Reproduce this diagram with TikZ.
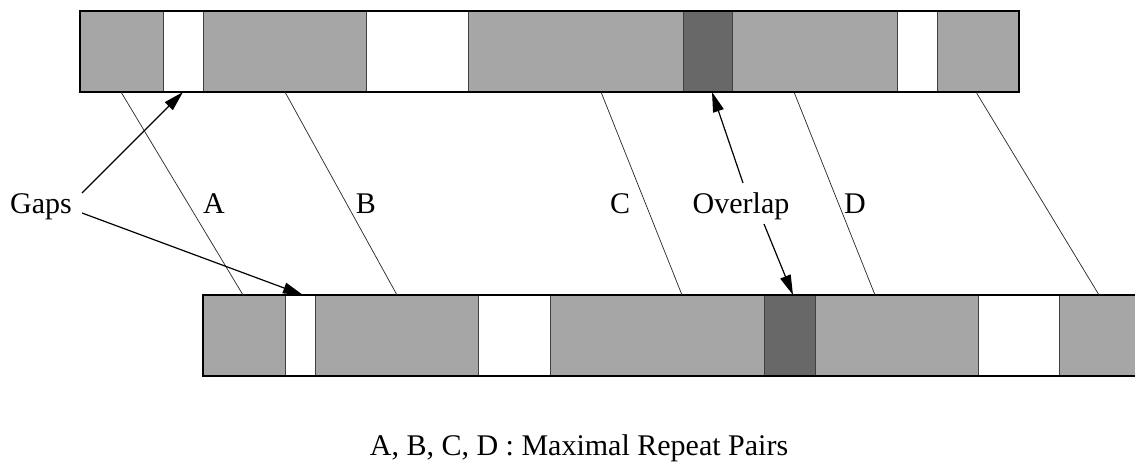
\documentclass[tikz,border=0pt]{standalone}
\usepackage{fontspec}
\setmainfont{Liberation Serif}
\usetikzlibrary{arrows.meta}
\definecolor{lightseg}{HTML}{A6A6A6}
\definecolor{darkseg}{HTML}{686868}
\begin{document}
\begin{tikzpicture}[x=1pt,y=-1pt,
  lbl/.style={font=\fontsize{30}{36}\selectfont, inner sep=0pt, anchor=base},
  pairline/.style={line width=0.7pt, draw=black!85},
  pointer/.style={line width=1.2pt, -{Triangle[length=20pt,width=11pt]}},
  sepline/.style={line width=1pt, draw=black!75},
  barframe/.style={line width=2pt, draw=black},
]
\useasboundingbox (0,0) rectangle (1135,463);
\fill[white] (0,0) rectangle (1135,463);
\begin{scope}
\clip (0,0) rectangle (1135,463);
% top sequence
\fill[lightseg] (80,11) rectangle (1019,92);
\fill[white] (163,11) rectangle (203,92);
\fill[white] (366,11) rectangle (468,92);
\fill[darkseg] (683,11) rectangle (732,92);
\fill[white] (897,11) rectangle (937,92);
\foreach \x in {163,203,366,468,683,732,897,937} \draw[sepline] (\x,11) -- (\x,92);
\draw[barframe] (80,11) rectangle (1019,92);
% bottom sequence
\fill[lightseg] (203,295) rectangle (1140,376);
\fill[white] (285,295) rectangle (315,376);
\fill[white] (478,295) rectangle (550,376);
\fill[darkseg] (764,295) rectangle (815,376);
\fill[white] (978,295) rectangle (1059,376);
\foreach \x in {285,315,478,550,764,815,978,1059} \draw[sepline] (\x,295) -- (\x,376);
\draw[barframe] (203,295) rectangle (1145,376);
\end{scope}
% end points of the repeat pair lines
\coordinate (tA) at (121,92);  \coordinate (bA) at (243,295);
\coordinate (tB) at (285,92);  \coordinate (bB) at (397,295);
\coordinate (tC) at (601,92);  \coordinate (bC) at (682,295);
\coordinate (tD) at (794,92);  \coordinate (bD) at (875,295);
\coordinate (tE) at (976,92);  \coordinate (bE) at (1099,295);
\draw[pairline] (tA) -- (bA);
\draw[pairline] (tB) -- (bB);
\draw[pairline] (tC) -- (bC);
\draw[pairline] (tD) -- (bD);
\draw[pairline] (tE) -- (bE);
% labels
\node[lbl] (gaps) at (41,213) {Gaps};
\node[lbl] (la) at (214,213) {A};
\node[lbl] (lb) at (366,213) {B};
\node[lbl] (lc) at (620,213) {C};
\node[lbl] (ld) at (855,213) {D};
\node[lbl] (overlap) at (741,213) {Overlap};
\node[lbl] (caption) at (579,455) {A, B, C, D : Maximal Repeat Pairs};
% pointers
\coordinate (g1) at (82,193);   \coordinate (gap1) at (183,92);
\coordinate (g2) at (82,213);   \coordinate (gap2) at (303,295);
\coordinate (o1) at (743,183);  \coordinate (ov1) at (712,92);
\coordinate (o2) at (764,224);  \coordinate (ov2) at (793,295);
\draw[pointer] (g1) -- (gap1);
\draw[pointer] (g2) -- (gap2);
\draw[pointer] (o1) -- (ov1);
\draw[pointer] (o2) -- (ov2);
\end{tikzpicture}
\end{document}
